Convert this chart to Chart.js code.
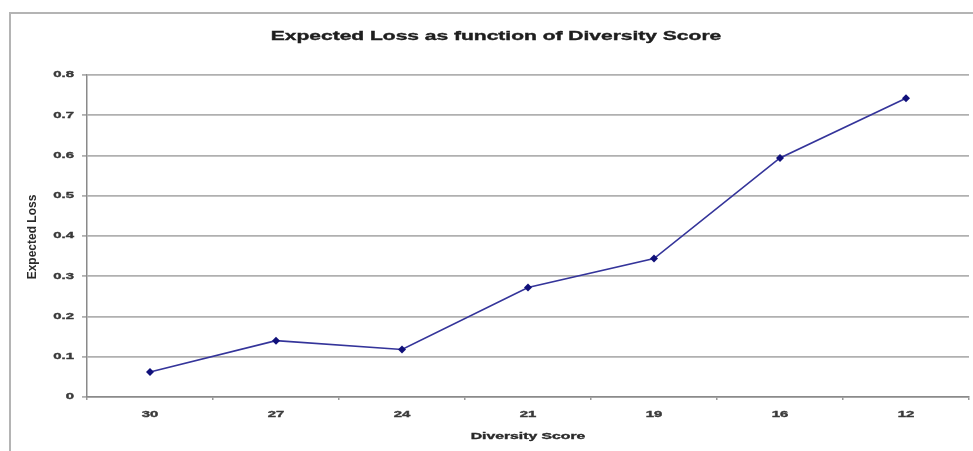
<!DOCTYPE html>
<html>
<head>
<meta charset="utf-8">
<script src="https://cdn.jsdelivr.net/npm/chart.js@4.4.1/dist/chart.umd.min.js"></script>
<style>
  html, body { margin: 0; padding: 0; background: #ffffff; }
  #wrap { width: 973px; height: 451px; position: relative; }
</style>
</head>
<body>
<div id="wrap"><canvas id="chart" width="973" height="451"></canvas></div>
<script>
// Diversity score categories (descending) and the expected loss at each
const diversityScores = ['30', '27', '24', '21', '19', '16', '12'];
const expectedLoss = [0.062, 0.140, 0.118, 0.272, 0.344, 0.594, 0.742];
const yTickValues = [0, 0.1, 0.2, 0.3, 0.4, 0.5, 0.6, 0.7, 0.8];
const yTickLabels = ['0', '0.1', '0.2', '0.3', '0.4', '0.5', '0.6', '0.7', '0.8'];

const chartTitle = 'Expected Loss as function of Diversity Score';
const xTitle = 'Diversity Score';
const yTitle = 'Expected Loss';

// Text in this chart is set in a wide, horizontally stretched face
const STRETCH = 1.75;
const FONT = '"Liberation Sans", Arial, sans-serif';

function stretchedText(ctx, text, x, y, size, align, color) {
  ctx.save();
  ctx.font = 'bold ' + size + 'px ' + FONT;
  ctx.fillStyle = color;
  ctx.strokeStyle = color;
  ctx.lineWidth = 0.35;
  ctx.textBaseline = 'middle';
  const w = ctx.measureText(text).width * STRETCH;
  let left = x;
  if (align === 'center') left = x - w / 2;
  else if (align === 'right') left = x - w;
  ctx.translate(left, y);
  ctx.scale(STRETCH, 1);
  ctx.textAlign = 'left';
  ctx.fillText(text, 0, 0);
  ctx.strokeText(text, 0, 0);
  ctx.restore();
}

const frame = {
  id: 'frame',
  beforeDraw(chart) {
    const ctx = chart.ctx;
    ctx.save();
    ctx.fillStyle = '#ffffff';
    ctx.fillRect(0, 0, chart.width, chart.height);
    ctx.strokeStyle = '#b4b4b4';
    ctx.lineWidth = 2;
    ctx.beginPath();
    ctx.moveTo(10, chart.height + 2);
    ctx.lineTo(10, 13);
    ctx.lineTo(chart.width + 2, 13);
    ctx.stroke();
    ctx.restore();
  }
};

const labels = {
  id: 'labels',
  afterDraw(chart) {
    const ctx = chart.ctx;
    const area = chart.chartArea;
    const xs = chart.scales.x;
    const ys = chart.scales.y;
    // title
    stretchedText(ctx, chartTitle, 496, 37, 12, 'center', '#1e1e1e');
    // y tick labels
    yTickValues.forEach((v, i) => {
      stretchedText(ctx, yTickLabels[i], area.left - 13, ys.getPixelForValue(v), 8.5, 'right', '#3a3a3a');
    });
    // x tick labels
    diversityScores.forEach((lab, i) => {
      stretchedText(ctx, lab, xs.getPixelForValue(i), area.bottom + 18, 8.5, 'center', '#3a3a3a');
    });
    // x axis title
    stretchedText(ctx, xTitle, (area.left + area.right) / 2, area.bottom + 40, 9, 'center', '#2a2a2a');
    // y axis title (rotated)
    ctx.save();
    ctx.translate(33, (area.top + area.bottom) / 2 + 1);
    ctx.rotate(-Math.PI / 2);
    ctx.font = 'bold 12px ' + FONT;
    ctx.fillStyle = '#2a2a2a';
    ctx.textAlign = 'center';
    ctx.textBaseline = 'middle';
    ctx.fillText(yTitle, 0, 0);
    ctx.restore();
  }
};

new Chart(document.getElementById('chart'), {
  type: 'line',
  data: {
    labels: diversityScores,
    datasets: [{
      label: yTitle,
      data: expectedLoss,
      borderColor: '#34349a',
      borderWidth: 1.7,
      backgroundColor: '#10107a',
      pointStyle: 'rectRot',
      pointRadius: 4,
      pointBorderWidth: 0,
      pointBackgroundColor: '#10107a',
      tension: 0,
      fill: false
    }]
  },
  options: {
    responsive: false,
    animation: false,
    devicePixelRatio: 1,
    layout: { padding: { top: 75, right: 1, left: 0, bottom: 0 } },
    plugins: {
      legend: { display: false },
      title: { display: false },
      tooltip: { enabled: false }
    },
    scales: {
      x: {
        type: 'category',
        offset: true,
        afterFit(scale) { scale.height = 54; },
        grid: {
          offset: true,
          drawOnChartArea: false,
          drawTicks: true,
          tickLength: 3,
          color: '#9a9a9a',
          lineWidth: 1.5
        },
        border: { color: '#8a8a8a', width: 1.5 },
        ticks: { display: false }
      },
      y: {
        min: 0,
        max: 0.8,
        afterFit(scale) { scale.width = 87; },
        afterBuildTicks(scale) { scale.ticks = yTickValues.map(v => ({ value: v })); },
        grid: {
          color: '#b0b0b0',
          lineWidth: 1.8,
          drawTicks: true,
          tickLength: 5
        },
        border: { color: '#8a8a8a', width: 1.5 },
        ticks: { display: false }
      }
    }
  },
  plugins: [frame, labels]
});
</script>
</body>
</html>
